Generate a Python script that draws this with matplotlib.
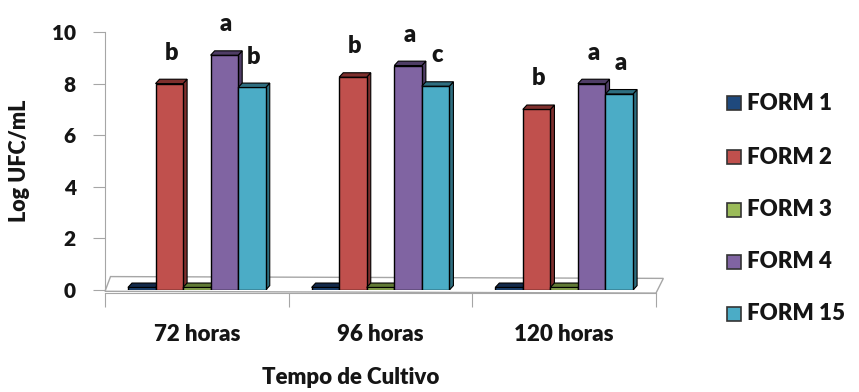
import matplotlib

matplotlib.use("Agg")
import matplotlib.pyplot as plt
import numpy as np
from matplotlib.patches import Polygon, Rectangle

plt.rcParams["font.family"] = ["Lato", "DejaVu Sans"]
plt.rcParams["font.weight"] = "heavy"

categories = ["72 horas", "96 horas", "120 horas"]
series = ["FORM 1", "FORM 2", "FORM 3", "FORM 4", "FORM 15"]
form1 = [0.1, 0.1, 0.1]
form2 = [8.0, 8.25, 7.0]
form3 = [0.1, 0.1, 0.1]
form4 = [9.1, 8.7, 8.0]
form15 = [7.85, 7.9, 7.6]
letters = {
    "FORM 2": ["b", "b", "b"],
    "FORM 4": ["a", "a", "a"],
    "FORM 15": ["b", "c", "a"],
}

colors = ["#1F497D", "#C0504D", "#9BBB59", "#8064A2", "#4BACC6"]
side_colors = ["#12294A", "#7E2F2D", "#617A35", "#4F3D66", "#2E6E80"]
text_color = "#151515"
axis_color = "#A6A6A6"
W = "heavy"

values = [form1, form2, form3, form4, form15]

fig = plt.figure(figsize=(8.59, 3.92), dpi=100)
ax = fig.add_axes([105 / 859, 1 - 290 / 392, 551 / 859, 258 / 392])
ax.set_xlim(0, 3)
ax.set_ylim(0, 10)

# floor of the pseudo-3D plot area
floor = Polygon([(0, -0.05), (3, -0.12), (3.04, 0.45), (0.03, 0.52)],
                closed=True, facecolor="white", edgecolor=axis_color,
                linewidth=1.0, clip_on=False, zorder=1)
ax.add_patch(floor)

width = 0.15
dx, dy = 0.022, 0.17
for i, (name, vals) in enumerate(zip(series, values)):
    for j, v in enumerate(vals):
        x0 = j + 0.5 - 2.5 * width + i * width
        ax.add_patch(Rectangle((x0, 0), width, v, facecolor=colors[i],
                               edgecolor="black", linewidth=1.0, zorder=3))
        ax.add_patch(Polygon([(x0, v), (x0 + width, v), (x0 + width + dx, v + dy), (x0 + dx, v + dy)],
                             closed=True, facecolor=side_colors[i], edgecolor="black",
                             linewidth=0.8, zorder=3))
        ax.add_patch(Polygon([(x0 + width, 0), (x0 + width + dx, dy), (x0 + width + dx, v + dy), (x0 + width, v)],
                             closed=True, facecolor=side_colors[i], edgecolor="black",
                             linewidth=0.8, zorder=2))
        if name in letters:
            ax.text(x0 + width / 2 + 0.01, v + 1.2, letters[name][j], ha="center", va="center",
                    fontsize=17, fontweight=W, color=text_color, clip_on=False)

for side in ["top", "right"]:
    ax.spines[side].set_visible(False)
ax.spines["left"].set_color(axis_color)
ax.spines["bottom"].set_color(axis_color)
ax.spines["bottom"].set_position(("data", -0.12))

ax.set_yticks(np.arange(0, 11, 2))
ax.tick_params(axis="y", length=9, color=axis_color, labelsize=15, labelcolor=text_color, pad=12)
ax.set_xticks([0, 1, 2, 3])
ax.set_xticklabels([])
ax.tick_params(axis="x", which="major", length=10, color=axis_color)
ax.set_xticks([0.5, 1.5, 2.5], minor=True)
ax.set_xticklabels(categories, minor=True)
ax.tick_params(axis="x", which="minor", length=0, labelsize=16, labelcolor=text_color, pad=22)
for lab in ax.get_yticklabels() + ax.get_xticklabels(minor=True):
    lab.set_fontweight(W)

ax.set_ylabel("Log UFC/mL", fontsize=15.5, fontweight=W, color=text_color, labelpad=16)
fig.text(351 / 859, 1 - 378 / 392, "Tempo de Cultivo", fontsize=16, fontweight=W,
         color=text_color, ha="center", va="center")

# legend on the right
legend_y = [103, 157, 210, 262, 314]
for name, col, y in zip(series, colors, legend_y):
    fig.patches.append(Rectangle((727 / 859, 1 - (y + 7) / 392), 14 / 859, 14 / 392,
                                 transform=fig.transFigure, facecolor=col,
                                 edgecolor="#333333", linewidth=1.2))
    fig.text(747 / 859, 1 - y / 392, name, fontsize=16, fontweight=W,
             color=text_color, va="center", ha="left")

fig.savefig("out.png", dpi=100)
